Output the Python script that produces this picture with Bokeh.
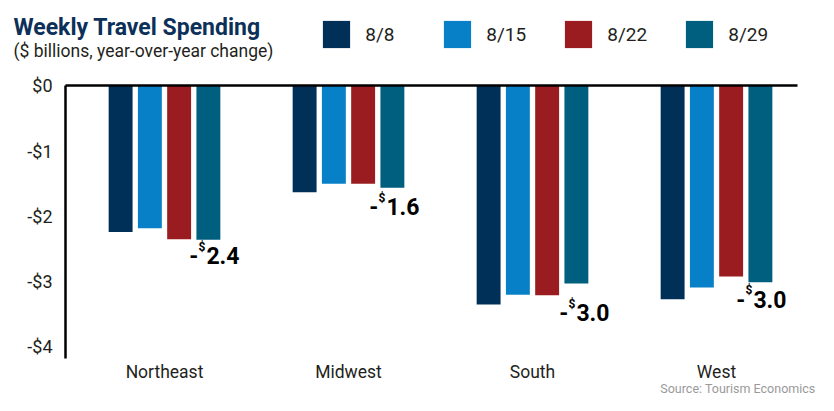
import numpy as np
from bokeh.plotting import figure
from bokeh.models import (ColumnDataSource, Range1d, FixedTicker, Label,
                          Legend, LegendItem, LinearAxis)
from bokeh.transform import dodge
from bokeh.core.properties import value
from bokeh.embed import file_html
from bokeh.resources import INLINE

# ---------------- data ----------------
regions = ["Northeast", "Midwest", "South", "West"]
weeks = ["8/8", "8/15", "8/22", "8/29"]
spend_aug08 = [-2.24, -1.63, -3.35, -3.27]
spend_aug15 = [-2.18, -1.50, -3.20, -3.09]
spend_aug22 = [-2.35, -1.50, -3.21, -2.92]
spend_aug29 = [-2.36, -1.56, -3.03, -3.01]
y_ticks = [0, -1, -2, -3, -4]
y_tick_labels = ["$0", "-$1", "-$2", "-$3", "-$4"]

# ---------------- style / layout ----------------
colors = ["#003057", "#0780C7", "#9B1C20", "#005E7E"]
FONT = "Roboto"
TXT = "#231F20"
TITLE_C = "#0D3059"

W, H = 818, 395
# data-space extents of the whole canvas and of the plotting area
X_START, X_END = -0.8913, 3.5543
Y_START, Y_END = -4.7469, 1.3113
AREA_LEFT, AREA_RIGHT, AREA_BOTTOM = -0.538, 3.440, -4.18
bar_step = 0.159
bar_w = 0.13

series = [spend_aug08, spend_aug15, spend_aug22, spend_aug29]
src = ColumnDataSource(dict(x=np.arange(len(regions)),
                            **{f"s{i}": s for i, s in enumerate(series)}))

p = figure(width=W, height=H, output_backend="svg", toolbar_location=None,
           x_range=Range1d(X_START, X_END), y_range=Range1d(Y_START, Y_END),
           min_border=0, min_border_left=0, min_border_right=0,
           min_border_top=0, min_border_bottom=0)
p.title.visible = False
p.outline_line_color = None
p.grid.visible = False
p.background_fill_color = "white"
p.border_fill_color = "white"

renderers = []
for i, (wk, col) in enumerate(zip(weeks, colors)):
    r = p.vbar(x=dodge("x", (i - 1.5) * bar_step), top=f"s{i}", bottom=0,
               width=bar_w, source=src, fill_color=col, line_color=None)
    renderers.append(r)

# y axis (fixed inside the canvas)
ya = p.yaxis[0]
ya.fixed_location = AREA_LEFT
ya.bounds = (AREA_BOTTOM, 0)
ya.ticker = FixedTicker(ticks=y_ticks)
ya.major_label_overrides = {t: l for t, l in zip(y_ticks, y_tick_labels)}
ya.axis_line_color = "black"
ya.axis_line_width = 2.5
ya.major_tick_line_color = None
ya.minor_tick_line_color = None
ya.major_tick_out = 0
ya.minor_tick_out = 0
ya.major_label_standoff = 13
ya.major_label_text_font = FONT
ya.major_label_text_font_size = "18px"
ya.major_label_text_color = TXT

# category labels
xa = p.xaxis[0]
xa.fixed_location = AREA_BOTTOM
xa.ticker = FixedTicker(ticks=list(range(len(regions))))
xa.major_label_overrides = {i: r for i, r in enumerate(regions)}
xa.axis_line_color = None
xa.major_tick_line_color = None
xa.minor_tick_line_color = None
xa.major_tick_out = 0
xa.minor_tick_out = 0
xa.major_label_standoff = 3
xa.major_label_text_font = FONT
xa.major_label_text_font_size = "17.5px"
xa.major_label_text_color = TXT

# zero line
zero_axis = LinearAxis(fixed_location=0, bounds=(AREA_LEFT, AREA_RIGHT),
                       ticker=FixedTicker(ticks=[]), axis_line_color="black",
                       axis_line_width=2.5, major_tick_line_color=None,
                       minor_tick_line_color=None, major_tick_out=0,
                       minor_tick_out=0)
p.add_layout(zero_axis, "below")

# value labels on the 8/29 bars
last = spend_aug29
lab_dx = [-2, -6, 0, -7]
lab_dy = [16, 19, 29, 17]
lab_src = ColumnDataSource(dict(
    x=np.arange(len(regions)) + 1.5 * bar_step,
    y=last,
    num=[f"{abs(v):.1f}" for v in last],
    dx=lab_dx, dy=lab_dy,
    dxs=[d - 1 for d in lab_dx], dys=[d - 9 for d in lab_dy],
    dxm=[d - 8 for d in lab_dx],
    dol=["$"] * len(last), minus=["-"] * len(last)))
p.text(x="x", y="y", text="num", x_offset="dx", y_offset="dy", source=lab_src,
       text_font=value(FONT), text_font_style="bold", text_font_size="23px",
       text_color="black", text_align="left", text_baseline="alphabetic")
p.text(x="x", y="y", text="dol", x_offset="dxs", y_offset="dys", source=lab_src,
       text_font=value(FONT), text_font_style="bold", text_font_size="12px",
       text_color="black", text_align="right", text_baseline="alphabetic")
p.text(x="x", y="y", text="minus", x_offset="dxm", y_offset="dy", source=lab_src,
       text_font=value(FONT), text_font_style="bold", text_font_size="23px",
       text_color="black", text_align="right", text_baseline="alphabetic")

# legend
legend = Legend(items=[LegendItem(label=w, renderers=[r]) for w, r in zip(weeks, renderers)],
                orientation="horizontal", location=(319.3, 343.9),
                glyph_width=34, glyph_height=34, label_standoff=12,
                label_width=60, spacing=15, padding=0, margin=0,
                border_line_color=None, background_fill_alpha=0,
                label_text_font=FONT, label_text_font_size="19px",
                label_text_color=TXT)
p.add_layout(legend, "center")

# titles
p.add_layout(Label(x=13, y=368.3, x_units="screen", y_units="screen",
                   text="Weekly Travel Spending", text_font=FONT,
                   text_font_style="bold", text_font_size="23px",
                   text_color=TITLE_C, text_baseline="alphabetic"))
p.add_layout(Label(x=13, y=344.5, x_units="screen", y_units="screen",
                   text="($ billions, year-over-year change)", text_font=FONT,
                   text_font_size="17.5px", text_color=TXT,
                   text_baseline="alphabetic"))
p.add_layout(Label(x=815, y=7, x_units="screen", y_units="screen",
                   text="Source: Tourism Economics", text_font=FONT,
                   text_font_size="12.5px", text_color="#9A9A9A",
                   text_align="right", text_baseline="alphabetic"))

open("out.html", "w").write(file_html(p, INLINE))
